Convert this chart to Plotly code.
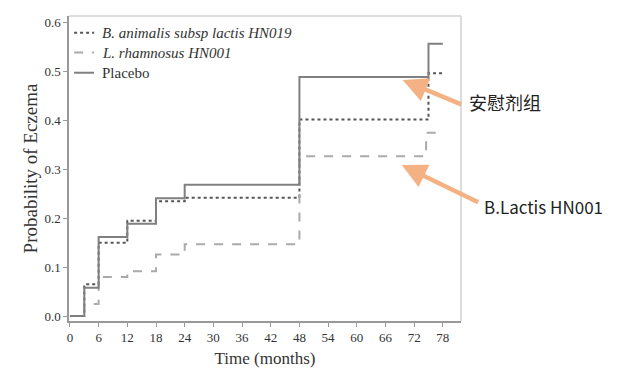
import plotly.graph_objects as go

# Data
months = [0, 3, 6, 12, 18, 24, 48, 75, 78]
months_rham = [0, 3, 6, 12, 18, 24, 48, 74.5, 78]
placebo = [0, 0.058, 0.162, 0.189, 0.241, 0.269, 0.489, 0.557, 0.557]
animalis = [0, 0.065, 0.150, 0.195, 0.235, 0.242, 0.402, 0.497, 0.497]
rhamnosus = [0, 0.025, 0.080, 0.092, 0.126, 0.147, 0.327, 0.375, 0.375]
x_ticks = list(range(0, 79, 6))
y_ticks = [0.0, 0.1, 0.2, 0.3, 0.4, 0.5, 0.6]
series_names = ["<i>B. animalis subsp lactis HN019</i>", "<i>L. rhamnosus HN001</i>", "Placebo"]
series_colors = ["#555555", "#aaaaaa", "#808080"]
series_dash = ["dot", "dash", "solid"]

serif = "Liberation Serif, Times New Roman, serif"
cjk = "Noto Sans CJK SC, Noto Sans, sans-serif"

fig = go.Figure()
for xs, ys, nm, col, ds in zip([months, months_rham, months], [animalis, rhamnosus, placebo],
                               series_names, series_colors, series_dash):
    fig.add_trace(go.Scatter(x=xs, y=ys, mode="lines", line_shape="hv", name=nm,
                             showlegend=False, line=dict(color=col, width=2, dash=ds)))

# Custom legend (top-left, short sample lines)
legend_y = [0.945, 0.880, 0.814]
for ly, nm, col, ds in zip(legend_y, series_names, series_colors, series_dash):
    fig.add_shape(type="line", xref="paper", yref="paper", x0=0.013, x1=0.064, y0=ly, y1=ly,
                  line=dict(color=col, width=2, dash=ds))
    fig.add_annotation(x=0.079, y=ly, xref="paper", yref="paper", xanchor="left", yanchor="middle",
                       text=nm, showarrow=False, font=dict(family=serif, size=15, color="#333333"))

# light box edges (top/right)
fig.add_shape(type="line", xref="paper", yref="paper", x0=0, x1=1, y0=1, y1=1,
              line=dict(color="#d0d0d0", width=1.5))
fig.add_shape(type="line", xref="paper", yref="paper", x0=1, x1=1, y0=0, y1=1,
              line=dict(color="#d0d0d0", width=1.5))

arrow_color = "#f4b183"
fig.add_annotation(x=69.6, y=0.483, xref="x", yref="y", ax=60, ay=25, text="",
                   showarrow=True, arrowhead=2, arrowsize=1.1, arrowwidth=4.5,
                   arrowcolor=arrow_color, standoff=0)
fig.add_annotation(x=69.4, y=0.309, xref="x", yref="y", ax=78, ay=38, text="",
                   showarrow=True, arrowhead=2, arrowsize=1.1, arrowwidth=4.5,
                   arrowcolor=arrow_color, standoff=0)
fig.add_annotation(x=1.015, y=0.719, xref="paper", yref="paper", xanchor="left",
                   yanchor="middle", text="安慰剂组", showarrow=False,
                   font=dict(family=cjk, size=18, color="#222222"))
fig.add_annotation(x=1.054, y=0.374, xref="paper", yref="paper", xanchor="left",
                   yanchor="middle", text="B.Lactis HN001", showarrow=False,
                   font=dict(family=cjk, size=17, color="#222222"))

axis_common = dict(showgrid=False, zeroline=False, showline=True, linecolor="#999999",
                   linewidth=1.5, mirror=False, ticks="outside", ticklen=4, automargin=False,
                   tickcolor="#999999", tickfont=dict(family=serif, size=13, color="#333333"))

fig.update_xaxes(range=[-0.2, 81.8], tickvals=x_ticks,
                 title=dict(text="Time (months)", font=dict(family=serif, size=17, color="#333333"),
                            standoff=8),
                 **axis_common)
fig.update_yaxes(range=[-0.01, 0.614], tickvals=y_ticks, tickformat=".1f",
                 title=dict(text="Probability of Eczema", font=dict(family=serif, size=19, color="#333333"),
                            standoff=2),
                 **axis_common)

# The page adds an 8px body margin, so the figure is sized/offset to compensate
fig.update_layout(
    width=616, height=377,
    margin=dict(l=61, r=163, t=8, b=64),
    plot_bgcolor="white", paper_bgcolor="white",
    showlegend=False,
)

fig.write_html("out.html")
